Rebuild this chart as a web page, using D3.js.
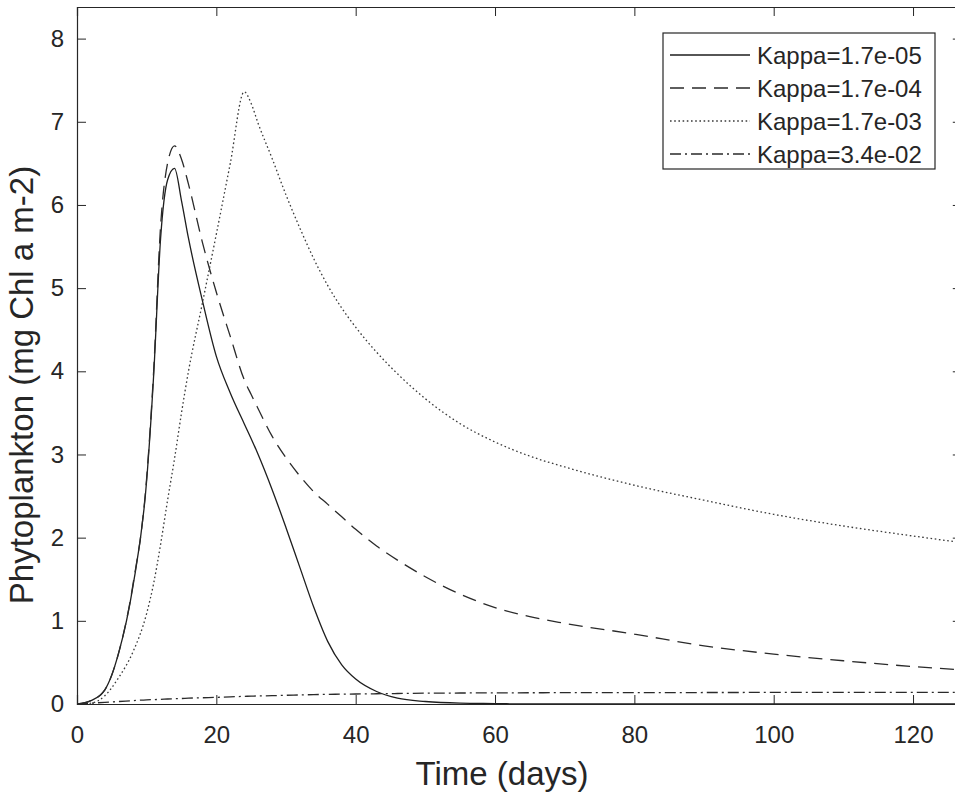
<!DOCTYPE html>
<html>
<head>
<meta charset="utf-8">
<script src="https://cdn.jsdelivr.net/npm/d3@7"></script>
<style>
	body { margin: 0; background: #fff; }
	svg { display: block; font-family: 'Liberation Sans', Arial, sans-serif; }
	.axis path, .axis line { stroke: #262626; }
	.axis text { fill: #262626; font-size: 24px; }
</style>
</head>
<body>
<svg id="viz" width="955" height="796"></svg>
<script>
// time points (days)
var days = [ 0, 2, 4, 6, 8, 10, 11, 12, 13, 14, 15, 16, 18, 20, 22, 24, 25, 26, 28, 30, 32, 34, 36, 38, 40, 43, 46, 50, 55, 60, 65, 70, 80, 90, 100, 110, 120, 127 ];

// phytoplankton (mg Chl a m-2)
var kappa1 = [ 0, 0.04, 0.17, 0.62, 1.4, 2.69, 3.95, 5.6, 6.3, 6.44, 6.05, 5.6, 4.85, 4.18, 3.74, 3.37, 3.19, 3.0, 2.58, 2.12, 1.64, 1.16, 0.75, 0.47, 0.3, 0.15, 0.07, 0.03, 0.01, 0.005, 0, 0, 0, 0, 0, 0, 0, 0 ];
var kappa2 = [ 0, 0.04, 0.17, 0.62, 1.42, 2.72, 4.0, 5.75, 6.5, 6.71, 6.55, 6.25, 5.55, 4.95, 4.42, 3.9, 3.72, 3.55, 3.22, 2.96, 2.74, 2.55, 2.4, 2.25, 2.1, 1.9, 1.73, 1.53, 1.32, 1.16, 1.05, 0.97, 0.84, 0.7, 0.6, 0.52, 0.45, 0.41 ];
var kappa3 = [ 0, 0.01, 0.1, 0.32, 0.62, 1.09, 1.45, 1.92, 2.45, 2.95, 3.5, 4.0, 4.82, 5.65, 6.5, 7.36, 7.22, 6.98, 6.56, 6.12, 5.72, 5.35, 5.03, 4.76, 4.53, 4.23, 3.97, 3.67, 3.37, 3.15, 2.98, 2.85, 2.63, 2.45, 2.28, 2.14, 2.02, 1.94 ];
var kappa4 = [ 0, 0.01, 0.02, 0.03, 0.04, 0.05, 0.053, 0.056, 0.06, 0.063, 0.066, 0.07, 0.075, 0.08, 0.086, 0.092, 0.095, 0.097, 0.1, 0.105, 0.109, 0.113, 0.116, 0.118, 0.12, 0.123, 0.126, 0.13, 0.132, 0.134, 0.135, 0.136, 0.137, 0.138, 0.139, 0.14, 0.14, 0.14 ];

var labels = [ 'Kappa=1.7e-05', 'Kappa=1.7e-04', 'Kappa=1.7e-03', 'Kappa=3.4e-02' ];
var xTicks = [ 0, 20, 40, 60, 80, 100, 120 ];
var yTicks = [ 0, 1, 2, 3, 4, 5, 6, 7, 8 ];

var styles = [
	{ dash: null, color: '#1e1e1e' },
	{ dash: '14,8', color: '#2a2a2a' },
	{ dash: '1.6,2.6', color: '#3a3a3a' },
	{ dash: '11,4,2,4', color: '#2a2a2a' }
];

var series = [ kappa1, kappa2, kappa3, kappa4 ].map( function ( vals, i ) {
	return { name: labels[i], style: styles[i], points: days.map( function ( t, j ) { return [ t, vals[j] ]; } ) };
} );

var svg = d3.select( '#viz' );

var xScale = d3.scaleLinear().domain( [ 0, 127 ] ).range( [ 77, 77 + 127 * 6.967 ] );
var yScale = d3.scaleLinear().domain( [ 0, 8.38 ] ).range( [ 704, 7 ] );

var x0 = xScale.range()[0], x1 = xScale.range()[1];
var y0 = yScale.range()[0], y1 = yScale.range()[1];

svg.append( 'clipPath' ).attr( 'id', 'plotclip' )
	.append( 'rect' )
	.attr( 'x', x0 ).attr( 'y', y1 )
	.attr( 'width', x1 - x0 ).attr( 'height', y0 - y1 );

var line = d3.line()
	.x( function ( d ) { return xScale( d[0] ); } )
	.y( function ( d ) { return yScale( d[1] ); } )
	.curve( d3.curveMonotoneX );

svg.append( 'g' ).attr( 'clip-path', 'url(#plotclip)' )
	.selectAll( 'path' )
	.data( series )
	.enter()
	.append( 'path' )
	.attr( 'd', function ( d ) { return line( d.points ); } )
	.attr( 'fill', 'none' )
	.attr( 'stroke', function ( d ) { return d.style.color; } )
	.attr( 'stroke-width', 1.3 )
	.attr( 'stroke-dasharray', function ( d ) { return d.style.dash; } );

// axes, ticks pointing inward on all four sides
svg.append( 'g' ).attr( 'class', 'axis' )
	.attr( 'transform', 'translate(0,' + y0 + ')' )
	.call( d3.axisBottom( xScale ).tickValues( xTicks ).tickSize( -9 ).tickPadding( 22 ) );
svg.append( 'g' ).attr( 'class', 'axis' )
	.attr( 'transform', 'translate(0,' + y1 + ')' )
	.call( d3.axisTop( xScale ).tickValues( xTicks ).tickSize( -9 ).tickFormat( '' ) );
svg.append( 'g' ).attr( 'class', 'axis' )
	.attr( 'transform', 'translate(' + x0 + ',0)' )
	.call( d3.axisLeft( yScale ).tickValues( yTicks ).tickSize( -9 ).tickPadding( 13 ) );
svg.append( 'g' ).attr( 'class', 'axis' )
	.attr( 'transform', 'translate(' + x1 + ',0)' )
	.call( d3.axisRight( yScale ).tickValues( yTicks ).tickSize( -9 ).tickFormat( '' ) );

svg.selectAll( '.axis .domain' ).attr( 'stroke-width', 1.2 );

svg.append( 'text' )
	.attr( 'x', 502 )
	.attr( 'y', 785 )
	.attr( 'text-anchor', 'middle' )
	.attr( 'fill', '#262626' )
	.style( 'font-size', '33px' )
	.text( 'Time (days)' );

svg.append( 'text' )
	.attr( 'transform', 'translate(33,385) rotate(-90)' )
	.attr( 'text-anchor', 'middle' )
	.attr( 'fill', '#262626' )
	.style( 'font-size', '33px' )
	.text( 'Phytoplankton (mg Chl a m-2)' );

// legend
var legend = svg.append( 'g' );
legend.append( 'rect' )
	.attr( 'x', 663 ).attr( 'y', 33 )
	.attr( 'width', 272 ).attr( 'height', 136 )
	.attr( 'fill', '#fff' )
	.attr( 'stroke', '#262626' )
	.attr( 'stroke-width', 1.2 );

var rows = legend.selectAll( 'g.row' )
	.data( series )
	.enter()
	.append( 'g' )
	.attr( 'class', 'row' )
	.attr( 'transform', function ( d, i ) { return 'translate(0,' + ( 55 + i * 33 ) + ')'; } );
rows.append( 'line' )
	.attr( 'x1', 670 ).attr( 'x2', 750 )
	.attr( 'stroke', function ( d ) { return d.style.color; } )
	.attr( 'stroke-width', 1.3 )
	.attr( 'stroke-dasharray', function ( d ) { return d.style.dash; } );
rows.append( 'text' )
	.attr( 'x', 757 )
	.attr( 'dy', '0.36em' )
	.attr( 'fill', '#262626' )
	.style( 'font-size', '24px' )
	.text( function ( d ) { return d.name; } );
</script>
</body>
</html>
